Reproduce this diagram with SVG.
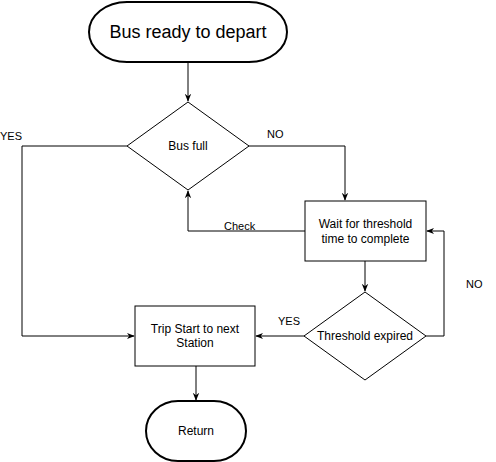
<svg xmlns="http://www.w3.org/2000/svg" width="496" height="462" viewBox="0 0 496 462">
<style>
.t{font-family:"Liberation Sans",Arial,sans-serif;font-size:12px;fill:#000;text-anchor:middle}
.l{font-family:"Liberation Sans",Arial,sans-serif;font-size:11px;fill:#000}
.term{fill:#fff;stroke:#000;stroke-width:2}
.box{fill:#fff;stroke:#000;stroke-width:1}
.c{fill:none;stroke:#000;stroke-width:1}
</style>
<defs>
<marker id="a" viewBox="0 0 10 10" refX="9" refY="5" markerWidth="8" markerHeight="8" markerUnits="userSpaceOnUse" orient="auto">
<path d="M0,1 L10,5 L0,9 L3,5 z" fill="#000"/>
</marker>
</defs>
<rect width="496" height="462" fill="#fff"/>
<g id="connectors">
<path class="c" d="M188,62 V101" marker-end="url(#a)"/>
<path class="c" d="M127,146 H22 V336 H134" marker-end="url(#a)"/>
<path class="c" d="M248,146 H345 V200" marker-end="url(#a)"/>
<path class="c" d="M305,231 H188 V191" marker-end="url(#a)"/>
<path class="c" d="M365,261 V291" marker-end="url(#a)"/>
<path class="c" d="M426,336 H444 V231 H427" marker-end="url(#a)"/>
<path class="c" d="M305,336 H256" marker-end="url(#a)"/>
<path class="c" d="M196,366 V400" marker-end="url(#a)"/>
<text class="l" x="0" y="140">YES</text>
<text class="l" x="267" y="138">NO</text>
<text class="l" x="224" y="230">Check</text>
<text class="l" x="466" y="288">NO</text>
<text class="l" x="278" y="325">YES</text>
</g>
<g id="start">
<path class="term" d="M127,2 H249 A38,30 0 0 1 249,62 H127 A38,30 0 0 1 127,2 Z"/>
<text class="t" x="188" y="38" style="font-size:18px">Bus ready to depart</text>
</g>
<g id="busfull">
<path class="box" d="M188,102 L249,146 L188,190 L127,146 Z"/>
<text class="t" x="188" y="150">Bus full</text>
</g>
<g id="wait">
<rect class="box" x="305" y="201" width="121" height="60"/>
<text class="t" x="365.5" y="228">Wait for threshold</text>
<text class="t" x="365.5" y="243">time to complete</text>
</g>
<g id="threshold">
<path class="box" d="M365,292 L426,336 L365,380 L304,336 Z"/>
<text class="t" x="365" y="340">Threshold expired</text>
</g>
<g id="trip">
<rect class="box" x="135" y="306" width="120" height="60"/>
<text class="t" x="195" y="333">Trip Start to next</text>
<text class="t" x="195" y="347">Station</text>
</g>
<g id="return">
<path class="term" d="M178,401 H214 A32,30 0 0 1 214,461 H178 A32,30 0 0 1 178,401 Z"/>
<text class="t" x="196" y="435">Return</text>
</g>
</svg>
